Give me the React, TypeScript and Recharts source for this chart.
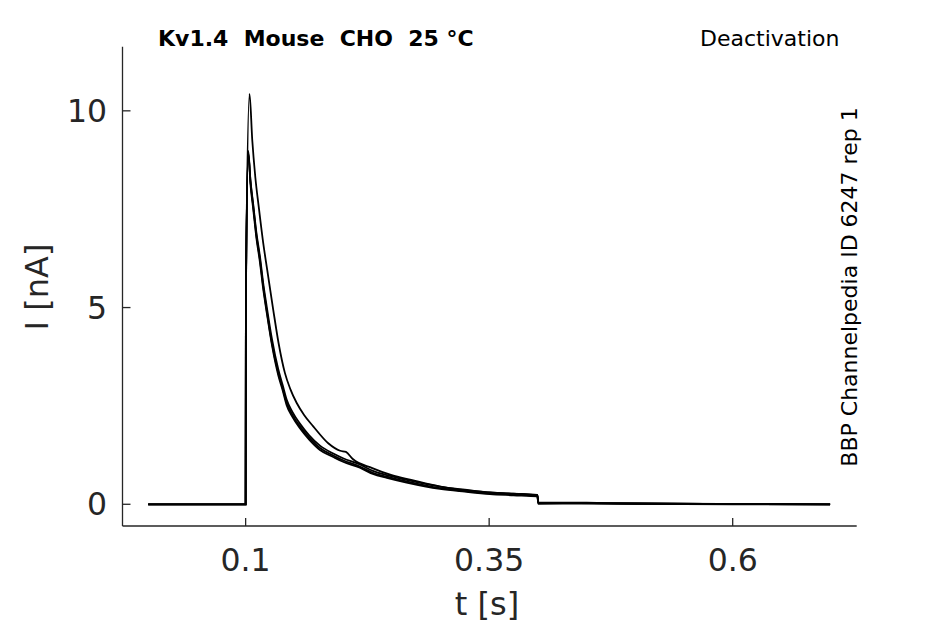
import { LineChart, Line, XAxis, YAxis } from "recharts"

// time points (s) and currents (nA)
const mainTimes = [0, 0.1, 0.1003, 0.1027, 0.105, 0.1078, 0.111, 0.1147, 0.118, 0.1215, 0.127, 0.1335, 0.138, 0.1421, 0.148, 0.1557, 0.165, 0.1763, 0.19, 0.2, 0.2173, 0.2306, 0.245, 0.2652, 0.2994, 0.325, 0.3507, 0.375, 0.3995, 0.4005, 0.45, 0.5, 0.6, 0.7]
const mainA = [0, 0, 5.3, 8.98, 8.2, 7.58, 6.85, 6.22, 5.55, 4.95, 4.1, 3.34, 2.95, 2.58, 2.28, 1.98, 1.7, 1.43, 1.24, 1.12, 0.96, 0.8, 0.7, 0.58, 0.41, 0.34, 0.28, 0.25, 0.22, 0.03, 0.03, 0.02, 0.01, 0]
const mainB = [0, 0, 5.2, 8.9, 8.22, 7.62, 6.92, 6.3, 5.63, 5.05, 4.2, 3.43, 3.03, 2.66, 2.35, 2.05, 1.76, 1.49, 1.29, 1.17, 1.01, 0.85, 0.74, 0.62, 0.45, 0.37, 0.3, 0.27, 0.24, 0.05, 0.04, 0.02, 0.01, 0]
const mainC = [0, 0, 5.4, 8.93, 8.12, 7.5, 6.78, 6.15, 5.48, 4.9, 4.05, 3.28, 2.9, 2.52, 2.22, 1.93, 1.65, 1.38, 1.2, 1.08, 0.93, 0.77, 0.67, 0.55, 0.39, 0.32, 0.26, 0.23, 0.2, 0.01, 0.02, 0.01, 0, 0]

const bigTimes = [0, 0.1, 0.1003, 0.104, 0.1068, 0.11, 0.1135, 0.118, 0.1222, 0.1283, 0.1338, 0.1403, 0.146, 0.1523, 0.16, 0.1694, 0.1848, 0.197, 0.203, 0.21, 0.23, 0.25, 0.27, 0.3, 0.35, 0.3995, 0.4005, 0.5, 0.7]
const bigTrace = [0, 0, 5.5, 10.43, 9.26, 8.3, 7.55, 6.65, 5.95, 4.95, 4.1, 3.34, 2.92, 2.58, 2.27, 1.98, 1.55, 1.36, 1.33, 1.15, 0.92, 0.74, 0.62, 0.45, 0.3, 0.23, 0.04, 0.02, 0]

const xTicks = [0.1, 0.35, 0.6]
const yTicks = [0, 5, 10]

const toPoints = (times: number[], values: number[]) =>
  times.map((t, i) => ({ t, v: values[i] }))

const traces = [
  toPoints(mainTimes, mainA),
  toPoints(mainTimes, mainB),
  toPoints(mainTimes, mainC),
  toPoints(bigTimes, bigTrace),
]

const axisColor = "#262626"
const tickStyle = { fontFamily: "DejaVu Sans", fontSize: 31.5, fill: axisColor }

export default function App() {
  return (
    <div style={{ position: "absolute", left: 0, top: 0, width: 945, height: 624, background: "#fff" }}>
      <LineChart
        width={945}
        height={624}
        margin={{ top: 46.7, right: 88.3, bottom: 0, left: 0 }}
      >
        <XAxis
          dataKey="t"
          type="number"
          domain={[-0.0264, 0.7273]}
          ticks={xTicks}
          allowDataOverflow
          height={98}
          stroke={axisColor}
          strokeWidth={1.3}
          tickSize={-8}
          tickMargin={31}
          tick={tickStyle}
        />
        <YAxis
          dataKey="v"
          type="number"
          domain={[-0.552, 11.63]}
          ticks={yTicks}
          allowDataOverflow
          width={122.5}
          stroke={axisColor}
          strokeWidth={1.3}
          tickSize={-8}
          tickMargin={23.5}
          tick={tickStyle}
        />
        {traces.map((data, i) => (
          <Line
            key={i}
            data={data}
            dataKey="v"
            type="monotone"
            stroke="#000"
            strokeWidth={1.8}
            dot={false}
            isAnimationActive={false}
          />
        ))}
      </LineChart>
      <svg
        width={945}
        height={624}
        style={{ position: "absolute", left: 0, top: 0, pointerEvents: "none" }}
      >
        <text x={158} y={46} fontFamily="DejaVu Sans" fontWeight="bold" fontSize={22} fill="#000" style={{ whiteSpace: "pre" }}>
          Kv1.4  Mouse  CHO  25 °C
        </text>
        <text x={700} y={46} fontFamily="DejaVu Sans" fontSize={22} fill="#000">
          Deactivation
        </text>
        <text transform="translate(857, 287) rotate(-90)" textAnchor="middle" fontFamily="DejaVu Sans" fontSize={22} fill="#000">
          BBP Channelpedia ID 6247 rep 1
        </text>
        <text transform="translate(48, 287) rotate(-90)" textAnchor="middle" fontFamily="DejaVu Sans" fontSize={32} fill={axisColor}>
          I [nA]
        </text>
        <text x={487} y={615} textAnchor="middle" fontFamily="DejaVu Sans" fontSize={32} fill={axisColor}>
          t [s]
        </text>
      </svg>
    </div>
  )
}
